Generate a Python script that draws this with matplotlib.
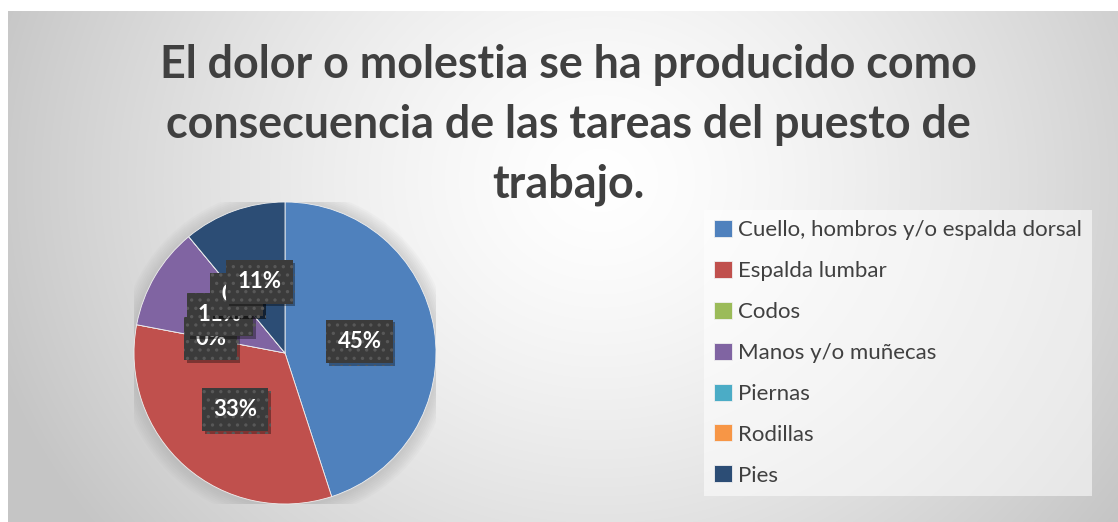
import numpy as np
import matplotlib
matplotlib.use("Agg")
import matplotlib.pyplot as plt
from matplotlib.patches import Circle
import matplotlib.patheffects as pe

plt.rcParams['font.family'] = ['Lato', 'DejaVu Sans']
plt.rcParams['hatch.linewidth'] = 1.2

title = "El dolor o molestia se ha producido como\nconsecuencia de las tareas del puesto de\ntrabajo."
categories = ["Cuello, hombros y/o espalda dorsal", "Espalda lumbar", "Codos",
              "Manos y/o muñecas", "Piernas", "Rodillas", "Pies"]
percentages = [45, 33, 0, 11, 0, 0, 11]
colors = ["#4F81BD", "#C0504D", "#9BBB59", "#8064A2", "#4BACC6", "#F79646", "#2C4D75"]

W, H = 1118, 522
fig = plt.figure(figsize=(W / 100, H / 100), dpi=100)
fig.patch.set_facecolor("white")

# background chart area with radial gradient
x0, y0 = 8, 11
bg = fig.add_axes([x0 / W, 0, (W - x0) / W, (H - y0) / H])
bg.set_axis_off()
xx, yy = np.meshgrid(np.arange(x0, W), np.arange(y0, H))
d = np.sqrt(((xx - 600) / 1.0) ** 2 + ((yy - 180) / 0.9) ** 2)
g = 255 - 58 * np.clip(d / 640, 0, 1) ** 1.4
img = np.dstack([g, g, g]) / 255.0
bg.imshow(img, aspect="auto", extent=[0, 1, 0, 1], origin="upper")
bg.set_xlim(0, 1)
bg.set_ylim(0, 1)

# pie
cx, cy, r = 285, 353, 151
ax = fig.add_axes([(cx - r) / W, (H - cy - r) / H, 2 * r / W, 2 * r / H])
ax.set_axis_off()
for k in range(8):
    ax.add_patch(Circle((0.0, -0.01), 1.0 + 0.012 * (k + 1), color="#9a9a9a",
                        alpha=0.05, lw=0, zorder=0))
wedges, texts, autotexts = ax.pie(
    percentages, colors=colors, startangle=90, counterclock=False,
    autopct=lambda p: f"{p:.0f}%", pctdistance=0.5, radius=1.0,
    wedgeprops=dict(edgecolor="#f0f0f0", linewidth=0.6),
    textprops=dict(color="white", fontsize=16, fontweight="bold"))
for w in wedges:
    w.set_zorder(1)
for t in autotexts:
    t.set_zorder(5)
    t.set_bbox(dict(boxstyle="square,pad=0.5", facecolor="#3b3b3b",
                    edgecolor="#585858", linewidth=0, hatch=".."))
    t.get_bbox_patch().set_path_effects(
        [pe.SimplePatchShadow(offset=(2, -2), shadow_rgbFace="#000000", alpha=0.35),
         pe.Normal()])
ax.set_xlim(-1, 1)
ax.set_ylim(-1, 1)
ax.set_aspect("equal")

# title
fig.text(568 / W, 1 - 125 / H, title, ha="center", va="center",
         fontsize=32.3, fontweight="bold", color="#404040", linespacing=1.52)

# legend
leg = fig.legend(wedges, categories, loc="upper left",
                 bbox_to_anchor=(704 / W, 1 - 210 / H),
                 frameon=True, fontsize=16, labelcolor="#404040",
                 handlelength=0.8, handleheight=0.8, handletextpad=0.3,
                 labelspacing=0.93, borderpad=0.45, borderaxespad=0)
fr = leg.get_frame()
fr.set_facecolor("white")
fr.set_alpha(0.55)
fr.set_edgecolor("none")
fr.set_boxstyle("square,pad=0")

fig.savefig("out.png", dpi=100)
